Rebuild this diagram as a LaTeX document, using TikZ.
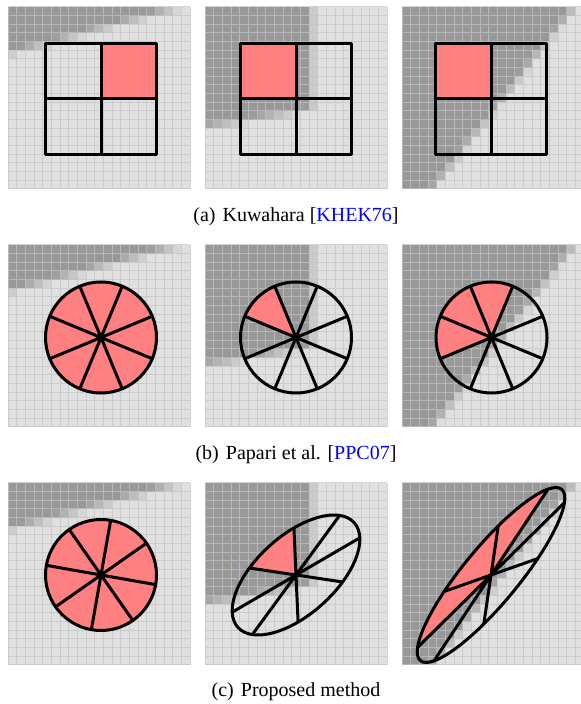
\documentclass[tikz,border=0pt]{standalone}
\usepackage{fontspec}
\setmainfont{Liberation Serif}
\usepackage{xcolor}
\definecolor{CellLight}{HTML}{E0E0E0}
\definecolor{CellDark}{HTML}{989898}
\definecolor{GridGray}{HTML}{C3C3C3}
\definecolor{SectorRed}{HTML}{FF8080}
\definecolor{CiteBlue}{HTML}{0000FF}
\tikzset{
  gridline/.style={draw=GridGray, draw opacity=0.7, line width=0.5pt},
  outline/.style={draw=black, line width=1.5pt, line join=round},
  sector/.style={fill=SectorRed},
  capt/.style={anchor=base, font=\fontsize{10}{12}\selectfont},
  declare function={
    edgetop(\x,\y)=((20-\x)-3.7*\y)/3.83;
    edgecorner(\x,\y)=min(12.3-\x,13.9-0.17*\x-\y);
    edgediag(\x,\y)=(19.9-0.78*\y-\x)/1.268;
  },
}
\newcommand{\pixelpanel}[3]{%
  \begin{scope}[shift={(#1,704-#2-182)}, scale=182/21]
    \foreach \i in {0,...,20}{
      \foreach \j in {0,...,20}{
        \pgfmathsetmacro\s{#3(\i+0.5,\j+0.5)}
        \pgfmathtruncatemacro\pct{100*max(0,min(1,0.5+\s))}
        \fill[CellDark!\pct!CellLight] (\i,20-\j) rectangle ++(1,1);
      }
    }
    \draw[gridline] \foreach \k in {0,...,21} {(\k,0) -- (\k,21) (0,\k) -- (21,\k)};
  \end{scope}}
\newcommand{\quadbox}[3]{%
  \begin{scope}[shift={(#1,704-#2)}]
    \fill[sector] (0,0) rectangle #3;
    \draw[outline] (-55.5,-55.5) rectangle (55.5,55.5);
    \draw[outline] (0,-55.5) -- (0,55.5) (-55.5,0) -- (55.5,0);
  \end{scope}}
\newcommand{\sectordisc}[5]{%
  \begin{scope}[shift={(#1,704-#2)}, rotate=#3, xscale=#4, yscale=1/#4]
    \foreach \a in {#5}
      \fill[sector] (0,0) -- (\a:55.5) arc[start angle=\a, end angle=\a+45, radius=55.5] -- cycle;
    \draw[outline] (0,0) circle[radius=55.5];
    \draw[outline] \foreach \a in {22.5,67.5,...,337.5} {(0,0) -- (\a:55.5)};
  \end{scope}}

\begin{document}
\begin{tikzpicture}[x=0.5pt, y=0.5pt]
  \useasboundingbox (0,0) rectangle (581,704);
  \fill[white] (0,0) rectangle (581,704);

  \pixelpanel{8}{7}{edgetop}
  \pixelpanel{205}{7}{edgecorner}
  \pixelpanel{402}{7}{edgediag}
  \quadbox{101}{99}{(55.5,55.5)}
  \quadbox{296}{99}{(-55.5,55.5)}
  \quadbox{491}{99}{(-55.5,55.5)}
  \node[capt] (capa) at (296,704-222) {(a)\hspace{3.5pt}Kuwahara [\textcolor{CiteBlue}{KHEK76}]};

  \pixelpanel{8}{245}{edgetop}
  \pixelpanel{205}{245}{edgecorner}
  \pixelpanel{402}{245}{edgediag}
  \sectordisc{101}{337.5}{0}{1}{22.5,67.5,...,337.5}
  \sectordisc{296}{337.5}{0}{1}{112.5}
  \sectordisc{491.5}{337.5}{0}{1}{67.5,112.5,157.5}
  \node[capt] (capb) at (296,704-460) {(b)\hspace{3.5pt}Papari et al. [\textcolor{CiteBlue}{PPC07}]};

  \pixelpanel{8}{483}{edgetop}
  \pixelpanel{205}{483}{edgecorner}
  \pixelpanel{402}{483}{edgediag}
  \sectordisc{101}{575}{12.5}{1}{22.5,67.5,...,337.5}
  \sectordisc{296}{575}{42}{1.41}{67.5}
  \sectordisc{491}{575}{50.5}{2}{22.5,67.5,112.5}
  \node[capt] (capc) at (296,704-697) {(c)\hspace{3.5pt}Proposed method};
\end{tikzpicture}
\end{document}
